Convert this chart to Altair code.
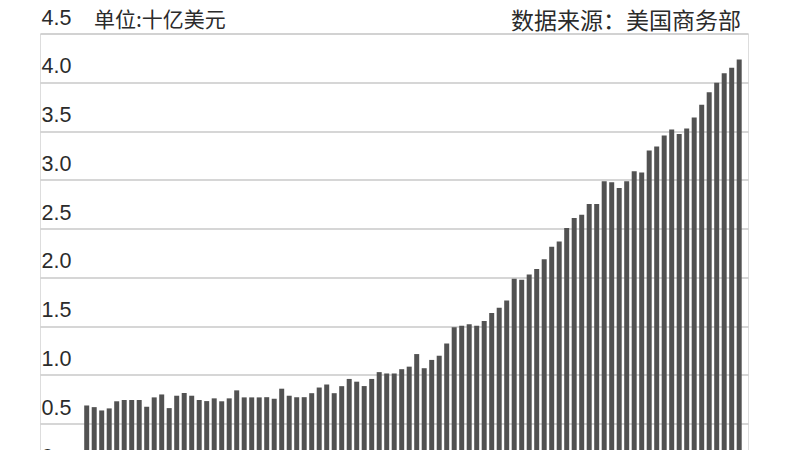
import altair as alt
import pandas as pd

# Quarterly values, billions of USD
values = [
    0.687, 0.670, 0.636, 0.657, 0.730, 0.743, 0.743, 0.743, 0.674, 0.770,
    0.800, 0.660, 0.787, 0.815, 0.787, 0.743, 0.732, 0.760, 0.730, 0.760,
    0.842, 0.770, 0.770, 0.770, 0.772, 0.756, 0.859, 0.787, 0.772, 0.772,
    0.813, 0.871, 0.902, 0.813, 0.885, 0.959, 0.931, 0.886, 0.959, 1.029,
    1.015, 1.015, 1.059, 1.085, 1.214, 1.069, 1.154, 1.197, 1.322, 1.490,
    1.505, 1.520, 1.505, 1.552, 1.634, 1.689, 1.764, 1.985, 1.977, 2.029,
    2.087, 2.186, 2.313, 2.368, 2.505, 2.608, 2.642, 2.752, 2.752, 2.985,
    2.975, 2.917, 2.985, 3.088, 3.074, 3.300, 3.342, 3.455, 3.517, 3.469,
    3.527, 3.640, 3.770, 3.897, 3.994, 4.093, 4.148, 4.234,
]
periods = list(range(1, len(values) + 1))
y_ticks = [0, 0.5, 1.0, 1.5, 2.0, 2.5, 3.0, 3.5, 4.0, 4.5]
unit_label = "单位:十亿美元"
source_label = "数据来源：美国商务部"

df = pd.DataFrame({"period": periods, "value": values})

bars = alt.Chart(df).mark_bar(width=5, color="#525252").encode(
    x=alt.X(
        "period:Q",
        scale=alt.Scale(domain=[-5.227, 89.173], nice=False, zero=False, padding=0),
        axis=None,
    ),
    y=alt.Y(
        "value:Q",
        scale=alt.Scale(domain=[0, 4.5], nice=False),
        axis=alt.Axis(
            values=y_ticks,
            labelExpr="datum.value == 0 ? '0' : format(datum.value, '.1f')",
            grid=True,
            gridColor="#c8c8c8",
            gridWidth=1.5,
            domain=False,
            ticks=False,
            tickSize=0,
            labelAlign="left",
            labelBaseline="alphabetic",
            labelPadding=-1,
            labelOffset=-9.5,
            labelFontSize=21.5,
            labelFont="Liberation Sans",
            labelColor="#2b2b2b",
            title=None,
        ),
    ),
)

unit_text = alt.Chart(pd.DataFrame({"t": [unit_label]})).mark_text(
    align="left", baseline="alphabetic", fontSize=21, font="Noto Sans CJK SC", color="#2b2b2b"
).encode(text="t:N", x=alt.value(54), y=alt.value(-6.5))

source_text = alt.Chart(pd.DataFrame({"t": [source_label]})).mark_text(
    align="right", baseline="alphabetic", fontSize=23, font="Noto Sans CJK SC", color="#2b2b2b"
).encode(text="t:N", x=alt.value(701), y=alt.value(-4.5))

chart = alt.layer(bars, unit_text, source_text).properties(
    width=708,
    height=439,
    autosize="none",
    padding={"left": 32, "top": 25.5, "right": 44, "bottom": 10},
).configure_view(strokeWidth=0).configure(background="white")

chart.save("out.html", embed_options={"renderer": "svg", "actions": False})
